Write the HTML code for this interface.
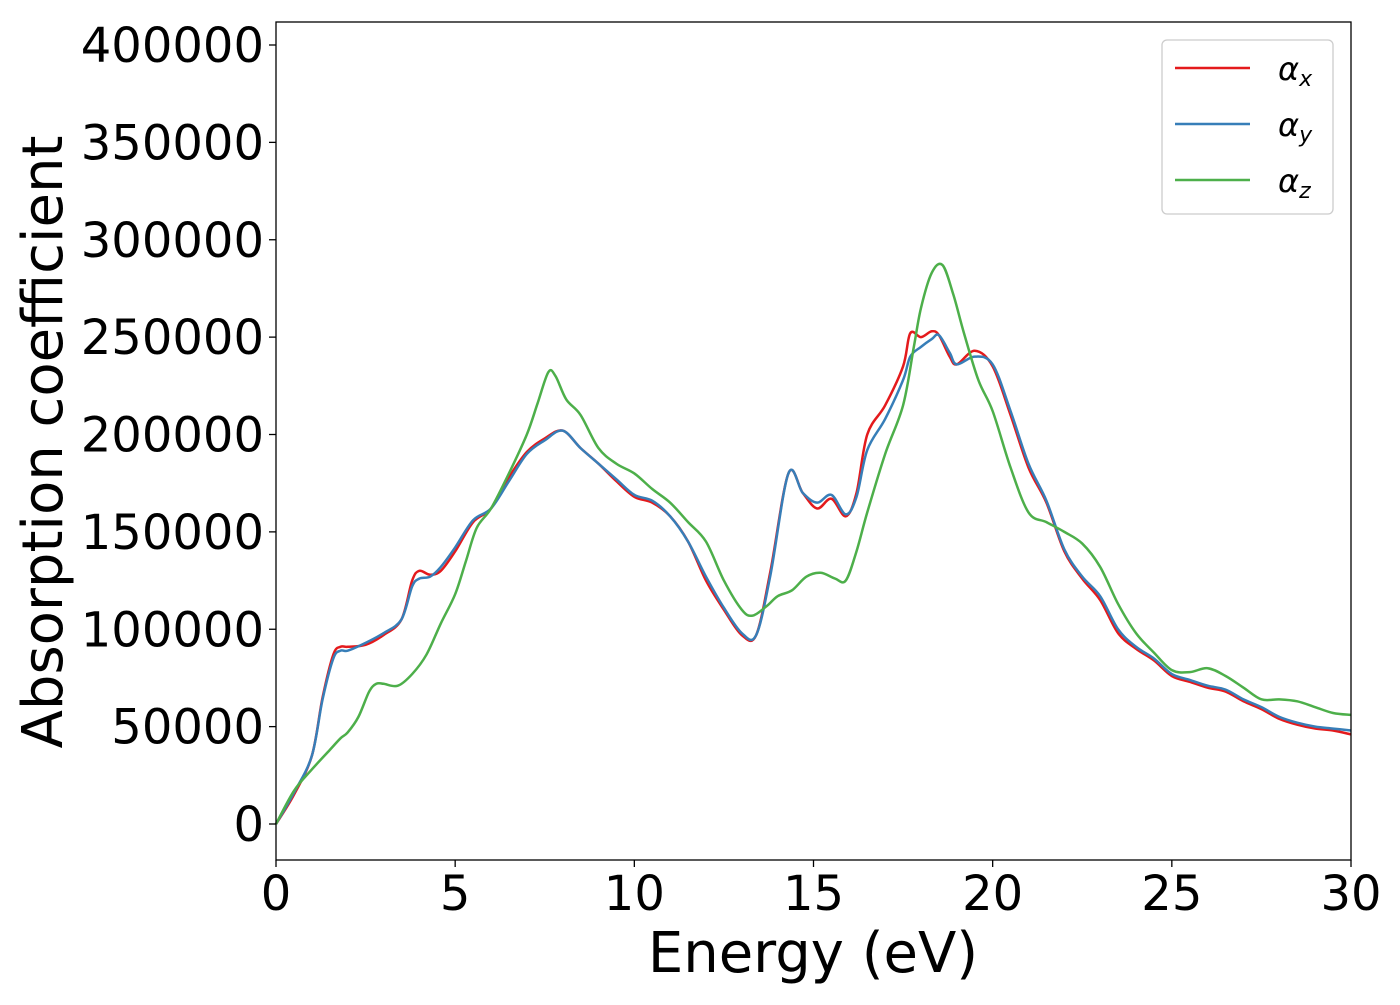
<!DOCTYPE html>
<html><head><meta charset="utf-8"><style>
body{margin:0;background:#fff}
svg text{font-family:"DejaVu Sans","Liberation Sans",sans-serif;fill:#000}
</style></head><body>
<svg id="chart" width="1400" height="1000" xmlns="http://www.w3.org/2000/svg">
<rect width="1400" height="1000" fill="#fff"/>
<g id="series"></g>
<rect x="276" y="22" width="1075" height="838" fill="none" stroke="#000" stroke-width="1.3"/>
<g id="xticks"></g><g id="yticks"></g>
<text x="813" y="972" font-size="56" text-anchor="middle">Energy (eV)</text>
<text transform="translate(62,442) rotate(-90)" font-size="56" text-anchor="middle">Absorption coefficient</text>
<g>
<rect x="1162" y="40" width="171" height="174" rx="5" fill="#fff" stroke="#ccc" stroke-width="1.3"/>
<line x1="1175" y1="68" x2="1250" y2="68" stroke="#e41a1c" stroke-width="2.5"/>
<text x="1278" y="80" font-size="32" font-style="italic">α<tspan font-size="22" dy="6">x</tspan></text>
<line x1="1175" y1="124" x2="1250" y2="124" stroke="#377eb8" stroke-width="2.5"/>
<text x="1278" y="136" font-size="32" font-style="italic">α<tspan font-size="22" dy="6">y</tspan></text>
<line x1="1175" y1="180" x2="1250" y2="180" stroke="#4daf4a" stroke-width="2.5"/>
<text x="1278" y="192" font-size="32" font-style="italic">α<tspan font-size="22" dy="6">z</tspan></text>
</g>
</svg>
<script>
const xTicks=[0,5,10,15,20,25,30];
const yTicks=[0,50000,100000,150000,200000,250000,300000,350000,400000];
const redE=[0,0.5,1,1.3,1.6,1.8,2,2.5,3,3.5,3.8,4,4.3,4.6,5,5.5,6,6.5,7,7.5,8,8.5,9,9.5,10,10.5,11,11.5,12,12.5,13,13.4,13.8,14.3,14.7,15.1,15.5,15.9,16.2,16.5,17,17.5,17.7,18,18.3,18.5,18.8,19,19.5,20,20.5,21,21.5,22,22.5,23,23.5,24,24.5,25,25.5,26,26.5,27,27.5,28,28.5,29,29.5,30];
const redV=[0,15,35,65,87,91,91,92,97,105,125,130,128,130,140,155,162,178,191,198,202,193,185,176,168,165,158,145,125,110,97,97,130,180,170,162,167,158,170,200,215,235,252,250,253,251,240,236,243,235,210,183,165,140,126,115,98,90,84,76,73,70,68,63,59,54,51,49,48,46];
const blueV=[0,16,35,64,85,89,89,93,98,105,122,126,127,132,142,156,162,176,190,197,202,193,185,177,169,166,158,145,127,111,98,97,128,180,170,165,169,159,168,192,208,228,240,245,249,251,242,236,240,236,212,185,166,141,127,117,100,91,85,77,74,71,69,64,60,55,52,50,49,48];
const greenE=[0,0.5,1,1.5,1.8,2,2.3,2.6,2.8,3,3.4,3.8,4.2,4.6,5,5.3,5.6,6,6.5,7,7.3,7.6,7.8,8.1,8.5,9,9.5,10,10.5,11,11.5,12,12.5,13,13.3,13.7,14,14.4,14.8,15.2,15.6,15.9,16.2,16.5,17,17.5,17.8,18,18.3,18.6,18.9,19.2,19.6,20,20.5,21,21.5,22,22.5,23,23.5,24,24.5,25,25.5,26,26.5,27,27.5,28,28.5,29,29.5,30];
const greenV=[0,17,28,38,44,47,55,68,72,72,71,77,87,103,118,135,152,162,180,200,216,232,230,218,210,193,185,180,172,165,155,145,125,110,107,112,117,120,127,129,126,125,140,160,190,215,245,265,283,287,272,252,228,212,183,160,155,150,144,132,113,98,88,79,78,80,76,70,64,64,63,60,57,56];
const X=v=>276+v*(1075/30);
const Y=v=>824-v*(779/400000);
const NS="http://www.w3.org/2000/svg";
function smoothPath(xs,ys){
  const p=xs.map((x,i)=>[X(x),Y(ys[i]*1000)]);
  let d="M"+p[0][0]+","+p[0][1];
  for(let i=0;i<p.length-1;i++){
    const p0=p[Math.max(i-1,0)],p1=p[i],p2=p[i+1],p3=p[Math.min(i+2,p.length-1)];
    const c1=[p1[0]+(p2[0]-p0[0])/6,p1[1]+(p2[1]-p0[1])/6];
    const c2=[p2[0]-(p3[0]-p1[0])/6,p2[1]-(p3[1]-p1[1])/6];
    d+=" C"+c1+" "+c2+" "+p2;
  }
  return d;
}
const sg=document.getElementById("series");
[["series-alpha-x",redE,redV,"#e41a1c"],["series-alpha-y",redE,blueV,"#377eb8"],["series-alpha-z",greenE,greenV,"#4daf4a"]].forEach(s=>{
  const path=document.createElementNS(NS,"path");
  path.setAttribute("d",smoothPath(s[1],s[2]));
  path.setAttribute("fill","none");path.setAttribute("stroke",s[3]);path.setAttribute("stroke-width","2.5");
  
  
  sg.appendChild(path);
});
const xg=document.getElementById("xticks");
xTicks.forEach(t=>{
  const l=document.createElementNS(NS,"line");
  l.setAttribute("x1",X(t));l.setAttribute("x2",X(t));l.setAttribute("y1",860);l.setAttribute("y2",867);l.setAttribute("stroke","#000");l.setAttribute("stroke-width","1.3");
  
  
  xg.appendChild(l);
  const tx=document.createElementNS(NS,"text");
  tx.setAttribute("x",X(t));tx.setAttribute("y",910);tx.setAttribute("font-size","48");tx.setAttribute("text-anchor","middle");
  tx.textContent=t;
  
  
  xg.appendChild(tx);
});
const yg=document.getElementById("yticks");
yTicks.forEach(t=>{
  const l=document.createElementNS(NS,"line");
  l.setAttribute("x1",269);l.setAttribute("x2",276);l.setAttribute("y1",Y(t));l.setAttribute("y2",Y(t));l.setAttribute("stroke","#000");l.setAttribute("stroke-width","1.3");
  
  
  yg.appendChild(l);
  const tx=document.createElementNS(NS,"text");
  tx.setAttribute("x",264);tx.setAttribute("y",Y(t)+17);tx.setAttribute("font-size","48");tx.setAttribute("text-anchor","end");
  tx.textContent=t;
  
  
  yg.appendChild(tx);
});
</script>
</body></html>
